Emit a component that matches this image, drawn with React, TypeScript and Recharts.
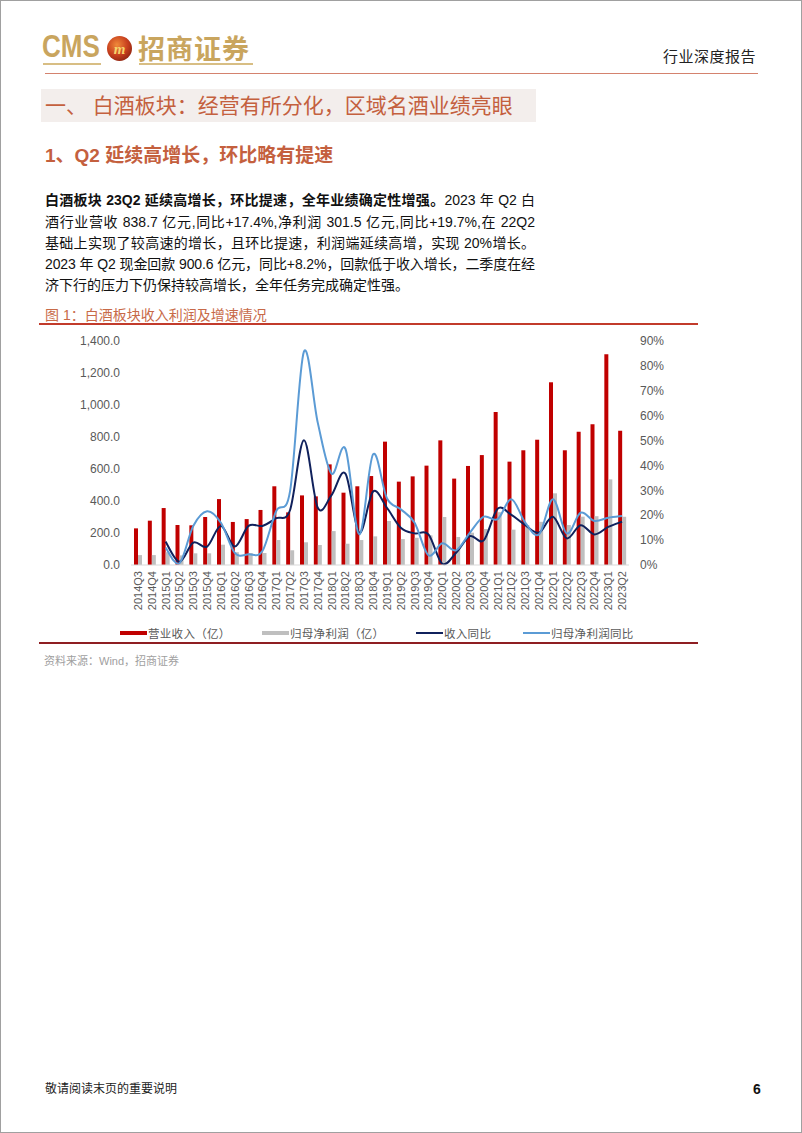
import React from 'react';
import { ComposedChart, Bar, Line, XAxis, YAxis } from 'recharts';

const categories = [
  '2014Q3', '2014Q4',
  '2015Q1', '2015Q2', '2015Q3', '2015Q4',
  '2016Q1', '2016Q2', '2016Q3', '2016Q4',
  '2017Q1', '2017Q2', '2017Q3', '2017Q4',
  '2018Q1', '2018Q2', '2018Q3', '2018Q4',
  '2019Q1', '2019Q2', '2019Q3', '2019Q4',
  '2020Q1', '2020Q2', '2020Q3', '2020Q4',
  '2021Q1', '2021Q2', '2021Q3', '2021Q4',
  '2022Q1', '2022Q2', '2022Q3', '2022Q4',
  '2023Q1', '2023Q2',
];

// 营业收入（亿）
const revenue = [
  229, 277,
  356, 250, 248, 300,
  412, 269, 287, 344,
  492, 329, 435, 429,
  629, 452, 492, 556,
  771, 521, 554, 621,
  779, 540, 619, 687,
  956, 646, 717, 783,
  1142, 717, 833, 879,
  1317, 838.7,
];

// 归母净利润（亿）
const profit = [
  62, 62,
  80, 60, 73, 73,
  127, 80, 75, 75,
  156, 92, 142, 125,
  212, 133, 156, 179,
  275, 162, 170, 185,
  300, 175, 202, 225,
  330, 221, 250, 270,
  448, 250, 302, 305,
  535, 301.5,
];

// 收入同比（%）
const revenueYoY: (number | null)[] = [
  null, null,
  9.4, 1.3, 9.0, 7.4,
  15.7, 7.4, 15.7, 15.7,
  18.8, 22.1, 50.1, 23.0,
  28.1, 36.7, 13.0, 29.5,
  23.0, 15.0, 12.7, 12.3,
  0.5, 4.9, 11.6, 9.9,
  22.6, 20.1, 16.0, 13.0,
  19.4, 10.7, 16.0, 12.3,
  15.3, 17.4,
];

// 归母净利润同比（%）
const profitYoY: (number | null)[] = [
  null, null,
  7.0, 0.7, 15.7, 21.6,
  17.0, 4.9, 4.3, 5.6,
  21.7, 29.7, 85.7, 57.2,
  36.7, 46.7, 12.3, 44.5,
  26.8, 22.4, 17.0, 3.9,
  8.7, 5.9, 13.0, 19.4,
  18.4, 26.4, 17.0, 12.3,
  26.4, 12.7, 21.0, 17.7,
  19.0, 19.7,
];

const leftTicks = [0, 200, 400, 600, 800, 1000, 1200, 1400];
const rightTicks = [0, 10, 20, 30, 40, 50, 60, 70, 80, 90];

const legendItems = [
  { label: '营业收入（亿）', color: '#C00000', kind: 'bar' },
  { label: '归母净利润（亿）', color: '#BFBFBF', kind: 'bar' },
  { label: '收入同比', color: '#10215C', kind: 'line' },
  { label: '归母净利润同比', color: '#5B9BD5', kind: 'line' },
];

const data = categories.map((c, i) => ({
  cat: c,
  revenue: revenue[i],
  profit: profit[i],
  revYoY: revenueYoY[i],
  profYoY: profitYoY[i],
}));

// Smooth curve through the points (similar to spreadsheet smoothed lines)
function smoothCurve(context: any) {
  let pts: [number, number][] = [];
  return {
    areaStart() {},
    areaEnd() {},
    lineStart() {
      pts = [];
    },
    point(x: number, y: number) {
      pts.push([+x, +y]);
    },
    lineEnd() {
      if (!pts.length) return;
      context.moveTo(pts[0][0], pts[0][1]);
      for (let i = 0; i < pts.length - 1; i++) {
        const p0 = pts[i - 1] || pts[i];
        const p1 = pts[i];
        const p2 = pts[i + 1];
        const p3 = pts[i + 2] || p2;
        context.bezierCurveTo(
          p1[0] + (p2[0] - p0[0]) / 6,
          p1[1] + (p2[1] - p0[1]) / 6,
          p2[0] - (p3[0] - p1[0]) / 6,
          p2[1] - (p3[1] - p1[1]) / 6,
          p2[0],
          p2[1]
        );
      }
    },
  };
}

const XTick = (props: any) => {
  const { x, y, payload } = props;
  return (
    <text
      x={0}
      y={0}
      transform={`translate(${x},${y}) rotate(-90)`}
      textAnchor="end"
      dy="0.36em"
      fontSize={11}
      fill="#595959"
    >
      {payload.value}
    </text>
  );
};

const fmtLeft = (v: number) =>
  v.toLocaleString('en-US', { minimumFractionDigits: 1, maximumFractionDigits: 1 });

const abs = (left: number, top: number, extra: React.CSSProperties = {}): React.CSSProperties => ({
  position: 'absolute',
  left,
  top,
  ...extra,
});

const CJK = '"Liberation Sans", "Noto Sans CJK SC", sans-serif';
const HEAD_COLOR = '#C4603E';

export default function App() {
  const lineStyle = (center: number, last = false): React.CSSProperties => ({
    position: 'absolute',
    left: 44,
    top: center - 11,
    width: 490,
    height: 22,
    lineHeight: '22px',
    fontSize: 14,
    color: '#111',
    textAlign: last ? 'left' : 'justify',
    textAlignLast: last ? 'left' : 'justify',
    whiteSpace: 'nowrap',
  } as React.CSSProperties);

  return (
    <div
      lang="zh-CN"
      style={{
        position: 'absolute',
        left: 0,
        top: 0,
        width: 802,
        height: 1133,
        background: '#fff',
        fontFamily: CJK,
        boxSizing: 'border-box',
        border: '1px solid #A0A0A0',
        overflow: 'hidden',
      }}
    >
      {/* Header logo */}
      <div
        style={abs(41, 29, {
          fontFamily: '"Liberation Sans", sans-serif',
          fontWeight: 'bold',
          fontSize: 31,
          lineHeight: '34px',
          color: '#C9A55E',
          transform: 'scaleX(0.84)',
          transformOrigin: 'left center',
        })}
      >
        CMS
      </div>
      <div style={abs(42, 62, { width: 58, height: 2, background: '#D8BE84' })} />
      <svg style={abs(105, 34)} width={27} height={27}>
        <defs>
          <radialGradient id="lg" cx="40%" cy="35%" r="70%">
            <stop offset="0%" stopColor="#F08A3A" />
            <stop offset="60%" stopColor="#C8401E" />
            <stop offset="100%" stopColor="#8E2512" />
          </radialGradient>
        </defs>
        <circle cx={13.5} cy={13.5} r={12.5} fill="url(#lg)" />
        <text
          x={13.5}
          y={18.5}
          textAnchor="middle"
          fontSize={15}
          fontWeight="bold"
          fontStyle="italic"
          fill="#F6D46C"
          fontFamily="Liberation Serif, serif"
        >
          m
        </text>
      </svg>
      <div
        style={abs(137, 31, {
          fontFamily: '"Noto Sans CJK SC", sans-serif',
          fontWeight: 'bold',
          fontSize: 27,
          lineHeight: '32px',
          color: '#C9A55E',
          letterSpacing: 1,
        })}
      >
        招商证券
      </div>
      <div style={abs(138, 62, { width: 114, height: 2, background: '#D8BE84' })} />
      <div style={abs(662, 46, { fontSize: 15, lineHeight: '20px', color: '#222', letterSpacing: 0.5 })}>
        行业深度报告
      </div>
      <div style={abs(44, 72, { width: 713, height: 1, background: '#D4826E' })} />

      {/* Section heading */}
      <div style={abs(40, 88, { width: 495, height: 33, background: '#F3EEEC' })} />
      <div style={abs(44, 89, { fontSize: 21, lineHeight: '31px', color: HEAD_COLOR, whiteSpace: 'nowrap' })}>
        一、 白酒板块：经营有所分化，区域名酒业绩亮眼
      </div>

      <div
        style={abs(44, 143, {
          fontSize: 19,
          lineHeight: '24px',
          color: HEAD_COLOR,
          fontWeight: 'bold',
          whiteSpace: 'nowrap',
        })}
      >
        1、Q2 延续高增长，环比略有提速
      </div>

      {/* Paragraph */}
      <div style={lineStyle(199)}>
        <b>白酒板块 23Q2 延续高增长，环比提速，全年业绩确定性增强。</b>2023 年 Q2 白
      </div>
      <div style={lineStyle(220.5)}>
        酒行业营收 838.7 亿元,同比+17.4%,净利润 301.5 亿元,同比+19.7%,在 22Q2
      </div>
      <div style={lineStyle(242)}>基础上实现了较高速的增长，且环比提速，利润端延续高增，实现 20%增长。</div>
      <div style={{ ...lineStyle(263), letterSpacing: -0.1 }}>
        2023 年 Q2 现金回款 900.6 亿元，同比+8.2%，回款低于收入增长，二季度在经
      </div>
      <div style={lineStyle(284, true)}>济下行的压力下仍保持较高增长，全年任务完成确定性强。</div>

      {/* Figure title */}
      <div style={abs(44, 303, { fontSize: 14, lineHeight: '22px', color: '#C86A48', whiteSpace: 'nowrap' })}>
        图 1：白酒板块收入利润及增速情况
      </div>
      <div style={abs(38, 322, { width: 659, height: 1.5, background: '#C23B2B' })} />

      {/* Chart */}
      <div style={abs(40, 330, { fontFamily: '"Liberation Sans", Arial, sans-serif' })}>
        <ComposedChart
          width={660}
          height={290}
          data={data}
          margin={{ top: 10, right: 12, bottom: 10, left: 0 }}
          barGap={0}
        >
          <XAxis
            dataKey="cat"
            interval={0}
            tickLine={false}
            tickSize={0}
            tickMargin={6}
            height={46}
            axisLine={{ stroke: '#D9D9D9' }}
            tick={<XTick />}
          />
          <YAxis
            yAxisId="left"
            orientation="left"
            width={90}
            domain={[0, 1400]}
            ticks={leftTicks}
            tickFormatter={fmtLeft}
            axisLine={false}
            tickLine={false}
            tickSize={0}
            tickMargin={11}
            tick={{ fontSize: 12, fill: '#595959' }}
          />
          <YAxis
            yAxisId="right"
            orientation="right"
            width={60}
            domain={[0, 90]}
            ticks={rightTicks}
            tickFormatter={(v: number) => `${v}%`}
            axisLine={false}
            tickLine={false}
            tickSize={0}
            tickMargin={11}
            tick={{ fontSize: 12, fill: '#595959', textAnchor: 'start' }}
          />
          <Bar yAxisId="left" dataKey="revenue" fill="#C00000" barSize={4} isAnimationActive={false} />
          <Bar yAxisId="left" dataKey="profit" fill="#BFBFBF" barSize={4} isAnimationActive={false} />
          <Line
            yAxisId="right"
            dataKey="revYoY"
            type={smoothCurve as any}
            stroke="#10215C"
            strokeWidth={2}
            dot={false}
            activeDot={false}
            isAnimationActive={false}
          />
          <Line
            yAxisId="right"
            dataKey="profYoY"
            type={smoothCurve as any}
            stroke="#5B9BD5"
            strokeWidth={2}
            dot={false}
            activeDot={false}
            isAnimationActive={false}
          />
        </ComposedChart>
      </div>

      {/* Legend */}
      {legendItems.map((it, i) => {
        const xs = [119, 261, 415, 522];
        const x = xs[i];
        return (
          <div key={it.label} style={abs(x, 622, { height: 20, display: 'flex', alignItems: 'center' })}>
            <div
              style={{
                width: 27,
                height: it.kind === 'bar' ? 4 : 2,
                background: it.color,
                marginRight: 1,
              }}
            />
            <span style={{ fontSize: 11.5, color: '#595959', whiteSpace: 'nowrap', letterSpacing: 0.3 }}>
              {it.label}
            </span>
          </div>
        );
      })}
      <div style={abs(38, 641, { width: 659, height: 2, background: '#8E1E22' })} />
      <div style={abs(43, 651, { fontSize: 11, lineHeight: '18px', color: '#A0A0A0', whiteSpace: 'nowrap' })}>
        资料来源：Wind，招商证券
      </div>

      {/* Footer */}
      <div style={abs(44, 1079, { fontSize: 12, lineHeight: '18px', color: '#222', whiteSpace: 'nowrap' })}>
        敬请阅读末页的重要说明
      </div>
      <div
        style={abs(752, 1079, {
          fontSize: 14,
          lineHeight: '18px',
          color: '#111',
          fontWeight: 'bold',
          fontFamily: '"Liberation Sans", sans-serif',
        })}
      >
        6
      </div>
    </div>
  );
}
